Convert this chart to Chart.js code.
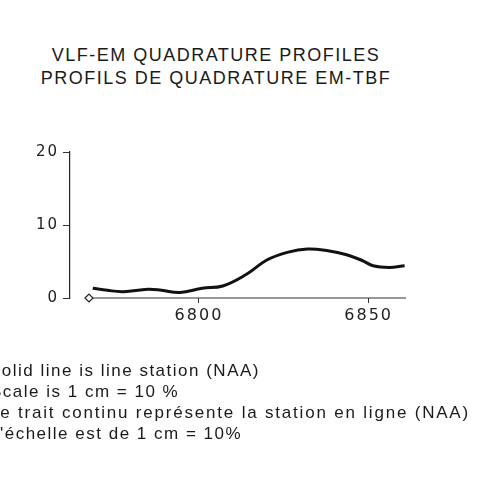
<!DOCTYPE html>
<html>
<head>
<meta charset="utf-8">
<script src="https://cdn.jsdelivr.net/npm/chart.js@4"></script>
<style>
    body { margin: 0; background: #fff; overflow: hidden; width: 500px; height: 501px; position: relative; }
    #chart { position: absolute; left: 0; top: 0; }
    .txt { position: absolute; font-family: "Liberation Sans", Arial, sans-serif; color: #1a1a1a; white-space: nowrap; line-height: normal; }
    .title { left: 0; width: 432px; text-align: center; font-size: 18px; letter-spacing: 1.5px; }
    .note { font-size: 17px; letter-spacing: 1.5px; }
</style>
</head>
<body>
<div class="txt title" style="top: 45px;">VLF-EM QUADRATURE PROFILES</div>
<div class="txt title" style="top: 68px;">PROFILS DE QUADRATURE EM-TBF</div>
<canvas id="chart" width="500" height="501"></canvas>
<div class="txt note" style="left: -11px; top: 361px;">Solid line is line station (NAA)</div>
<div class="txt note" style="left: -10px; top: 382px;">Scale is 1 cm = 10 %</div>
<div class="txt note" style="left: -11px; top: 403px; letter-spacing: 1.8px;">Le trait continu représente la station en ligne (NAA)</div>
<div class="txt note" style="left: -11px; top: 424px;">L'échelle est de 1 cm = 10%</div>
<script>
// station numbers along the line and quadrature (%)
const stations = [6768.7, 6773, 6777.7, 6785, 6789, 6794.4, 6801, 6807, 6814, 6820, 6826, 6832, 6838, 6843.5, 6848.3, 6851.3, 6856, 6860.6];
const quadrature = [1.34, 1.05, 0.87, 1.2, 1.05, 0.75, 1.34, 1.65, 3.25, 5.2, 6.25, 6.72, 6.48, 5.93, 5.1, 4.41, 4.18, 4.41];

// survey line drawn under the profile
const lineStations = [6767.6, 6861];
const lineValues = [0, 0];

const xTicks = [6800, 6850];
const yTicks = [0, 10, 20];

function toPoints(xs, ys) {
    return xs.map((x, i) => ({ x: x, y: ys[i] }));
}

const letterSpacing = {
    id: 'letterSpacing',
    beforeDraw(chart) {
        chart.ctx.letterSpacing = '2px';
    }
};

const ctx = document.getElementById('chart').getContext('2d');
new Chart(ctx, {
    type: 'scatter',
    data: {
        datasets: [{
            data: toPoints(stations, quadrature),
            showLine: true,
            borderColor: '#111',
            borderWidth: 3,
            tension: 0.4,
            pointRadius: 0,
            clip: false
        }, {
            data: toPoints(lineStations, lineValues),
            showLine: true,
            borderColor: '#333',
            borderWidth: 1,
            pointRadius: [4, 0],
            pointStyle: 'rectRot',
            pointBackgroundColor: '#fff',
            pointBorderColor: '#222',
            pointBorderWidth: 1.2,
            clip: false
        }]
    },
    options: {
        responsive: false,
        animation: false,
        devicePixelRatio: 1,
        layout: { padding: { left: 0, top: 152, right: 94, bottom: 173 } },
        plugins: {
            legend: { display: false },
            tooltip: { enabled: false }
        },
        scales: {
            x: {
                type: 'linear',
                min: 6762,
                max: 6861,
                afterBuildTicks: s => { s.ticks = xTicks.map(v => ({ value: v })); },
                afterFit: s => { s.height = 30; },
                ticks: {
                    color: '#222',
                    padding: 3,
                    maxRotation: 0,
                    font: { family: 'DejaVu Sans', size: 16 },
                    callback: v => String(v)
                },
                grid: { drawOnChartArea: false, drawTicks: true, tickLength: 5, color: '#333' },
                border: { display: false }
            },
            y: {
                min: 0,
                max: 20,
                afterBuildTicks: s => { s.ticks = yTicks.map(v => ({ value: v })); },
                afterFit: s => { s.width = 70; },
                ticks: {
                    color: '#222',
                    padding: 4,
                    font: { family: 'DejaVu Sans', size: 15 }
                },
                grid: { drawOnChartArea: false, drawTicks: true, tickLength: 7, color: '#333' },
                border: { display: true, color: '#222', width: 1.2 }
            }
        }
    },
    plugins: [letterSpacing]
});
</script>
</body>
</html>
